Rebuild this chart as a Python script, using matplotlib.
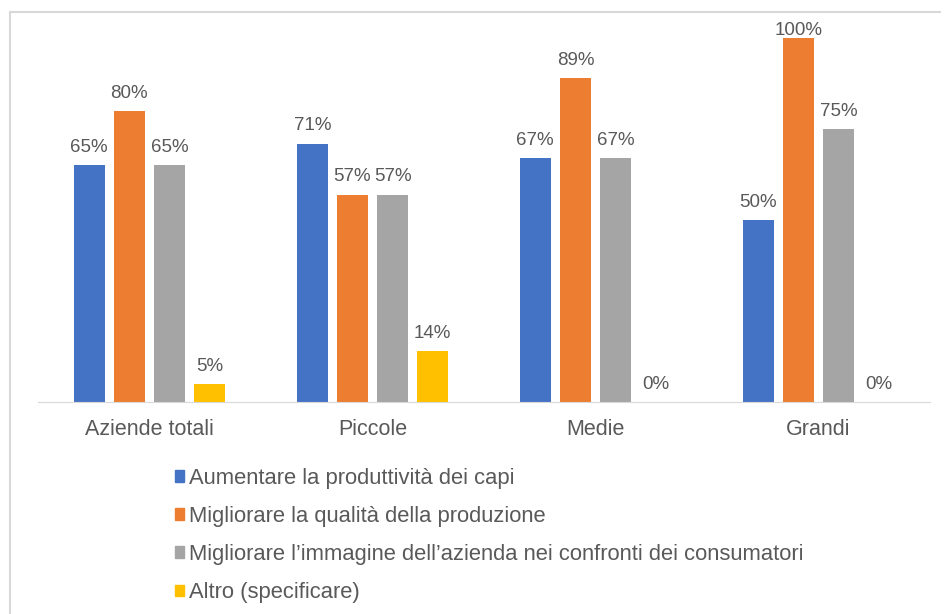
import numpy as np
import matplotlib
matplotlib.use("Agg")
import matplotlib.pyplot as plt
from matplotlib.lines import Line2D

plt.rcParams['font.family'] = ['Liberation Sans', 'DejaVu Sans']

categories = ["Aziende totali", "Piccole", "Medie", "Grandi"]
series_names = [
    "Aumentare la produttività dei capi",
    "Migliorare la qualità della produzione",
    "Migliorare l\u2019immagine dell\u2019azienda nei confronti dei consumatori",
    "Altro (specificare)",
]
aumentare = [65, 71, 67, 50]
qualita = [80, 57, 89, 100]
immagine = [65, 57, 67, 75]
altro = [5, 14, 0, 0]
colors = ["#4472C4", "#ED7D31", "#A5A5A5", "#FFC000"]

text_color = "#595959"

fig = plt.figure(figsize=(9.45, 6.14), dpi=100)
ax = fig.add_axes([38 / 945, 1 - 402 / 614, 892 / 945, 364 / 614])

x = np.arange(len(categories))
width = 0.14
step = 0.18
all_series = [aumentare, qualita, immagine, altro]
for i, (vals, col) in enumerate(zip(all_series, colors)):
    pos = x + (i - 1.5) * step
    ax.bar(pos, np.array(vals) / 100, width=width, color=col)
    for p, v in zip(pos, vals):
        # labels near the top get pushed down like in the original
        ty = min(v / 100 + 0.025, 0.997)
        ax.text(p, ty, f"{v}%", ha="center", va="bottom",
                fontsize=13.5, color=text_color)

ax.set_xlim(-0.5, len(categories) - 0.5)
ax.set_ylim(0, 1.0)
ax.set_yticks([])
ax.set_xticks(x)
ax.set_xticklabels(categories, fontsize=15.5, color=text_color)
ax.tick_params(axis="x", length=0, pad=12)
for s in ["top", "right", "left"]:
    ax.spines[s].set_visible(False)
ax.spines["bottom"].set_color("#D9D9D9")

# outer frame lines (left and top)
fig.add_artist(Line2D([10 / 945, 10 / 945], [0, 1 - 12 / 614], color="#D8D8D8", lw=1.5))
fig.add_artist(Line2D([10 / 945, 940 / 945], [1 - 12 / 614, 1 - 12 / 614], color="#D8D8D8", lw=1.5))

handles = [plt.Rectangle((0, 0), 1, 1, color=c) for c in colors]
fig.legend(handles, series_names, loc="upper left",
           bbox_to_anchor=(155 / 945, 1 - 448 / 614), frameon=False,
           fontsize=15.8, labelcolor=text_color, handlelength=0.42,
           handleheight=0.42, handletextpad=0.25, labelspacing=0.78)

fig.savefig("out.png", dpi=100, facecolor="white")
